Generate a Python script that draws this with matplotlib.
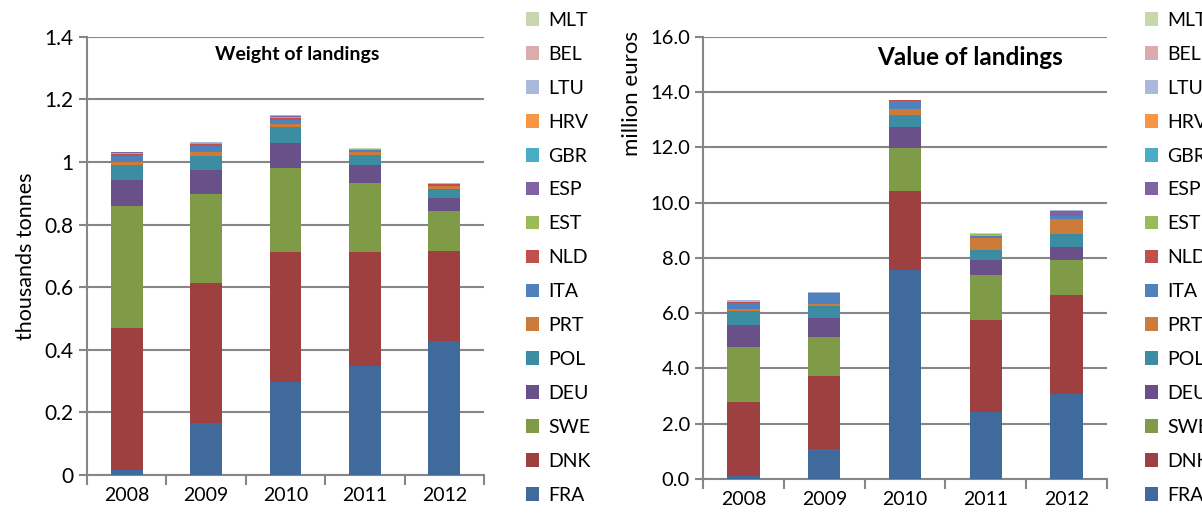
import matplotlib.pyplot as plt
from matplotlib.patches import Patch

years = ['2008', '2009', '2010', '2011', '2012']

# stacking order, bottom to top
countries = ['FRA', 'DNK', 'SWE', 'DEU', 'POL', 'PRT', 'ITA', 'NLD',
             'EST', 'ESP', 'GBR', 'HRV', 'LTU', 'BEL', 'MLT']

# thousand tonnes
weight = {
    'FRA': [0.016, 0.166, 0.297, 0.349, 0.427],
    'DNK': [0.453, 0.449, 0.415, 0.363, 0.290],
    'SWE': [0.392, 0.284, 0.270, 0.222, 0.128],
    'DEU': [0.083, 0.074, 0.080, 0.055, 0.041],
    'POL': [0.048, 0.047, 0.051, 0.032, 0.029],
    'PRT': [0.009, 0.013, 0.009, 0.010, 0.007],
    'ITA': [0.018, 0.019, 0.012, 0.006, 0.000],
    'NLD': [0.006, 0.006, 0.006, 0.000, 0.007],
    'EST': [0.004, 0.003, 0.004, 0.003, 0.000],
    'ESP': [0.002, 0.000, 0.004, 0.000, 0.002],
    'GBR': [0.000, 0.000, 0.000, 0.000, 0.000],
    'HRV': [0.000, 0.000, 0.000, 0.000, 0.000],
    'LTU': [0.002, 0.004, 0.003, 0.000, 0.003],
    'BEL': [0.000, 0.000, 0.000, 0.000, 0.000],
    'MLT': [0.000, 0.000, 0.000, 0.006, 0.000],
}

# million euros
value = {
    'FRA': [0.11, 1.09, 7.57, 2.43, 3.08],
    'DNK': [2.68, 2.65, 2.86, 3.33, 3.59],
    'SWE': [1.99, 1.40, 1.53, 1.63, 1.26],
    'DEU': [0.80, 0.69, 0.76, 0.54, 0.48],
    'POL': [0.51, 0.44, 0.46, 0.37, 0.47],
    'PRT': [0.05, 0.07, 0.19, 0.43, 0.54],
    'ITA': [0.21, 0.40, 0.29, 0.07, 0.11],
    'NLD': [0.07, 0.00, 0.04, 0.00, 0.00],
    'EST': [0.00, 0.00, 0.00, 0.08, 0.00],
    'ESP': [0.00, 0.00, 0.00, 0.00, 0.18],
    'GBR': [0.00, 0.00, 0.03, 0.00, 0.00],
    'HRV': [0.00, 0.00, 0.00, 0.00, 0.00],
    'LTU': [0.04, 0.04, 0.00, 0.00, 0.04],
    'BEL': [0.00, 0.00, 0.00, 0.00, 0.00],
    'MLT': [0.00, 0.00, 0.00, 0.03, 0.00],
}

colors = {
    'FRA': '#40699c', 'DNK': '#9d403f', 'SWE': '#809b48', 'DEU': '#6a5088',
    'POL': '#3c8ca3', 'PRT': '#cd7b38', 'ITA': '#4f81bd', 'NLD': '#c0504d',
    'EST': '#9bbb59', 'ESP': '#8064a2', 'GBR': '#4bacc6', 'HRV': '#f79646',
    'LTU': '#a9b9db', 'BEL': '#dcabab', 'MLT': '#c9d7ae',
}

plt.rcParams['font.family'] = ['Lato', 'DejaVu Sans']
grey = '#868686'

fig = plt.figure(figsize=(12.02, 5.26), dpi=100)
ax1 = fig.add_axes([0.0724, 0.097, 0.3303, 0.833])
ax2 = fig.add_axes([0.585, 0.0894, 0.336, 0.8406])


def stacked(ax, data):
    x = range(len(years))
    bottom = [0.0] * len(years)
    for c in countries:
        ax.bar(x, data[c], width=0.4, bottom=bottom, color=colors[c],
               label=c, zorder=3)
        bottom = [b + v for b, v in zip(bottom, data[c])]
    ax.set_xlim(-0.5, len(years) - 0.5)
    ax.set_xticks(list(x))
    ax.set_xticklabels(years, fontsize=14)
    ax.set_xticks([i - 0.5 for i in range(len(years) + 1)], minor=True)
    ax.tick_params(axis='x', which='major', length=0, pad=9)
    ax.tick_params(axis='x', which='minor', length=7, width=1.5, color=grey)
    ax.tick_params(axis='y', length=6, width=1.5, color=grey)
    ax.yaxis.grid(True, color=grey, linewidth=1.5, zorder=0)
    ax.set_axisbelow(True)
    for s in ('top', 'right'):
        ax.spines[s].set_visible(False)
    for s in ('left', 'bottom'):
        ax.spines[s].set_color(grey)
        ax.spines[s].set_linewidth(1.5)


stacked(ax1, weight)
ax1.set_ylim(0, 1.4)
yt1 = [0, 0.2, 0.4, 0.6, 0.8, 1.0, 1.2, 1.4]
ax1.set_yticks(yt1)
ax1.set_yticklabels(['0', '0.2', '0.4', '0.6', '0.8', '1', '1.2', '1.4'],
                    fontsize=15)
ax1.set_ylabel('thousands tonnes', fontsize=15.5, labelpad=6)
ax1.text(0.53, 0.959, 'Weight of landings', transform=ax1.transAxes,
         ha='center', va='center', fontsize=14, fontweight='bold')

stacked(ax2, value)
ax2.set_ylim(0, 16)
yt2 = list(range(0, 17, 2))
ax2.set_yticks(yt2)
ax2.set_yticklabels([f'{v:.1f}' for v in yt2], fontsize=14.5)
fig.text(632 / 1202, 1 - 93 / 526, 'million euros', rotation=90,
         ha='center', va='center', fontsize=16)
ax2.text(0.66, 0.954, 'Value of landings', transform=ax2.transAxes,
         ha='center', va='center', fontsize=17.5, fontweight='bold')

handles = [Patch(facecolor=colors[c], label=c) for c in reversed(countries)]
for xpos in (520 / 1202, 1139 / 1202):
    fig.legend(handles=handles, loc='upper left',
               bbox_to_anchor=(xpos, 1.0 - 6 / 526), frameon=False,
               fontsize=14, handlelength=0.7, handleheight=0.7,
               handletextpad=0.45, labelspacing=0.87, borderaxespad=0,
               borderpad=0.3)

fig.savefig('out.png', dpi=100)
